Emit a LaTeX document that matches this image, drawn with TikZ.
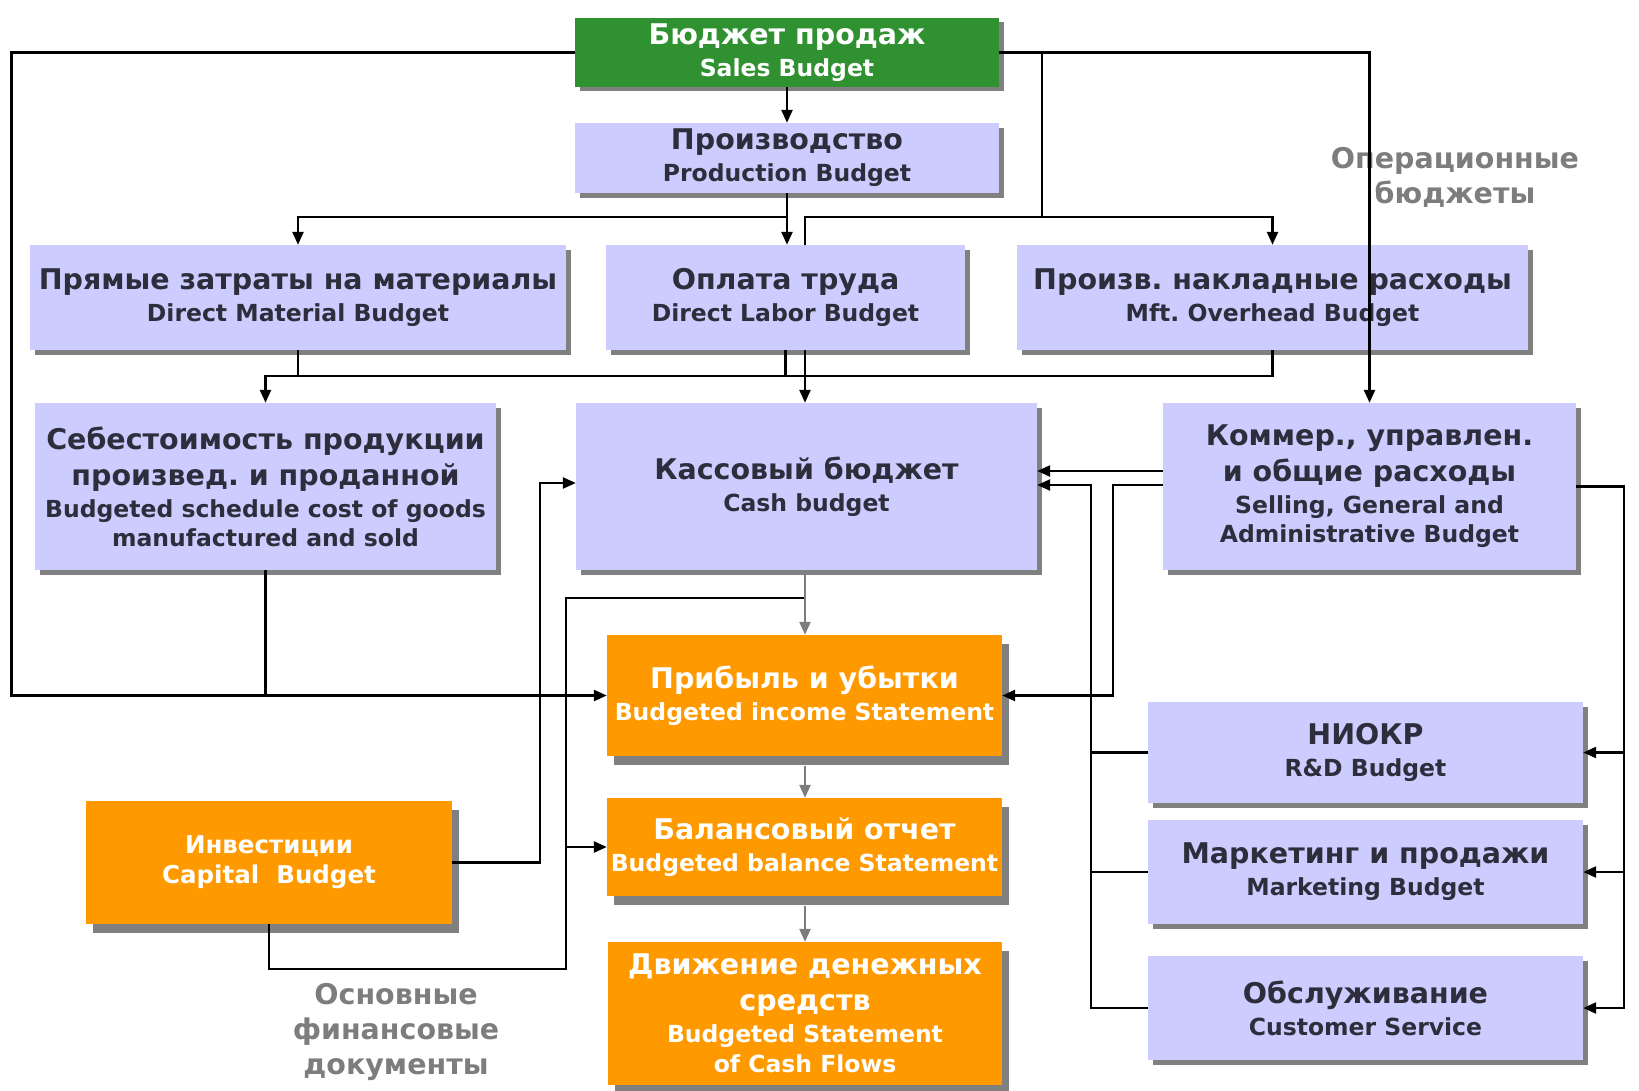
\documentclass[tikz,border=0pt]{standalone}
\usepackage{fontspec}
\setmainfont{DejaVu Sans}
\usetikzlibrary{arrows.meta,shadows}
\definecolor{grn}{RGB}{48,145,48}
\definecolor{lav}{RGB}{204,204,255}
\definecolor{org}{RGB}{255,153,0}
\definecolor{shgray}{RGB}{128,128,128}
\definecolor{txtdark}{RGB}{45,45,60}
\definecolor{lblgray}{RGB}{125,125,125}
\definecolor{arrgray}{RGB}{125,125,125}
\newcommand{\MF}{\fontsize{28.5}{32}\selectfont}
\newcommand{\SFt}{\fontsize{23.5}{29}\selectfont}
\frenchspacing
\begin{document}
\begin{tikzpicture}[x=1pt,y=-1pt,
  boxbase/.style={rectangle, inner sep=0pt, align=center,
    font=\frenchspacing\bfseries\fontsize{28.5}{32}\selectfont},
  lavbox/.style={boxbase, fill=lav, text=txtdark,
    general shadow={fill=shgray, shadow xshift=5pt, shadow yshift=-5pt}},
  grnbox/.style={boxbase, fill=grn, text=white,
    general shadow={fill=shgray, shadow xshift=5pt, shadow yshift=-4pt}},
  orgbox/.style={boxbase, fill=org, text=white,
    general shadow={fill=shgray, shadow xshift=7pt, shadow yshift=-9pt}},
  lbl/.style={align=center, text=lblgray,
    font=\bfseries\fontsize{28.5}{35}\selectfont},
  ln/.style={draw=black, line width=2.4pt},
  arr/.style={ln, -{Triangle[length=13pt,width=11pt]}},
  garr/.style={draw=arrgray, line width=2.4pt, -{Triangle[length=13pt,width=11pt]}}
]
\useasboundingbox (0,0) rectangle (1639,1090);

% ---- nodes ----
\node[grnbox, minimum width=424pt, minimum height=69pt] (sales) at (787,52.5)
  {{\MF Бюджет продаж}\\{\SFt Sales Budget}};
\node[lavbox, minimum width=424pt, minimum height=70pt] (prod) at (787,158)
  {{\MF Производство}\\{\SFt Production Budget}};
\node[lavbox, minimum width=536pt, minimum height=105pt] (dm) at (298,297.5)
  {{\MF Прямые затраты на материалы}\\{\SFt Direct Material Budget}};
\node[lavbox, minimum width=359pt, minimum height=105pt] (dl) at (785.5,297.5)
  {{\MF Оплата труда}\\{\SFt Direct Labor Budget}};
\node[lavbox, minimum width=511pt, minimum height=105pt] (mft) at (1272.5,297.5)
  {{\MF Произв. накладные расходы}\\{\SFt Mft. Overhead Budget}};
\node[lavbox, minimum width=461pt, minimum height=167pt] (cost) at (265.5,486.5)
  {{\MF Себестоимость продукции}\\[4pt]{\MF произвед. и проданной}\\{\SFt Budgeted schedule cost of goods}\\[-3pt]{\SFt manufactured and sold}};
\node[lavbox, minimum width=461pt, minimum height=167pt] (cash) at (806.5,486.5)
  {{\MF Кассовый бюджет}\\{\SFt Cash budget}};
\node[lavbox, minimum width=413pt, minimum height=167pt] (sga) at (1369.5,486.5)
  {{\MF Коммер., управлен.}\\[4pt]{\MF и общие расходы}\\{\SFt Selling, General and}\\[-3pt]{\SFt Administrative Budget}};
\node[orgbox, minimum width=395pt, minimum height=121pt] (income) at (804.5,695.5)
  {{\MF Прибыль и убытки}\\{\SFt Budgeted income Statement}};
\node[orgbox, minimum width=366pt, minimum height=123pt, font=\bfseries\fontsize{24.5}{30}\selectfont] (capital) at (269,862.5)
  {Инвестиции\\Capital\ \ Budget};
\node[orgbox, minimum width=395pt, minimum height=98pt] (balance) at (804.5,847)
  {{\MF Балансовый отчет}\\{\SFt Budgeted balance Statement}};
\node[orgbox, minimum width=394pt, minimum height=143pt] (cashflow) at (805,1013.5)
  {{\MF Движение денежных}\\[4pt]{\MF средств}\\{\SFt Budgeted Statement}\\[-2pt]{\SFt of Cash Flows}};
\node[lavbox, minimum width=435pt, minimum height=101pt] (rd) at (1365.5,752.5)
  {{\MF НИОКР}\\{\SFt R\&D Budget}};
\node[lavbox, minimum width=435pt, minimum height=104pt] (mkt) at (1365.5,872)
  {{\MF Маркетинг и продажи}\\{\SFt Marketing Budget}};
\node[lavbox, minimum width=435pt, minimum height=104pt] (svc) at (1365.5,1008)
  {{\MF Обслуживание}\\{\SFt Customer Service}};

\node[lbl] (oplbl) at (1455,177) {Операционные\\бюджеты};
\node[lbl] (osnlbl) at (396,1032) {Основные\\финансовые\\документы};

% ---- helper coordinates ----
\coordinate (lft) at (11.5,0);
\coordinate (ya) at (0,217);
\coordinate (e1) at (1042,0);
\coordinate (xb) at (805,0);
\coordinate (yb) at (0,376);
\coordinate (yc) at (0,598);
\coordinate (xc) at (566,0);
\coordinate (xd) at (540,0);
\coordinate (ye) at (0,483);
\coordinate (yf) at (0,969);
\coordinate (yg) at (0,471);
\coordinate (yh) at (0,485);
\coordinate (xe) at (1113,0);
\coordinate (xf) at (1091,0);
\coordinate (xg) at (1624,0);

% ---- connectors ----
\draw[arr] (sales.west) -| (lft|-income.west) -- (income.west);
\draw[ln] (cost.south) -- (cost.south|-income.west);
\draw[arr] (sales.south) -- (prod.north);
\draw[arr] (prod.south) -- (prod.south|-ya) -| (dm.north);
\draw[arr] (prod.south) -- (prod.south|-dl.north);
\draw[ln] (sales.east) -| (e1|-ya) -- (xb|-ya) -- (xb|-dl.north);
\draw[arr] (e1|-ya) -| (mft.north);
\draw[arr] (sales.east) -| (sga.north);

\draw[ln] (dm.south) -- (dm.south|-yb);
\draw[ln] (dl.south) -- (dl.south|-yb);
\draw[arr] (mft.south) -- (mft.south|-yb) -| (cost.north);
\draw[arr] (xb|-dl.south) -- (xb|-cash.north);

\draw[arr] (xb|-cash.south) -- (xb|-yc) -| (xc|-balance.west) -- (balance.west);
\draw[garr] (xb|-cash.south) -- (xb|-income.north);
\draw[arr] (capital.east) -| (xd|-ye) -- (cash.west|-ye);
\draw[ln] (capital.south) -- (capital.south|-yf) -| (xc|-balance.west);
\draw[garr] (xb|-income.south) ++(0,10) -- (xb|-balance.north);
\draw[garr] (xb|-balance.south) ++(0,10) -- (xb|-cashflow.north);

\draw[arr] (sga.west|-yg) -- (cash.east|-yg);
\draw[arr] (sga.west|-yh) -| (xe|-income.east) -- (income.east);
\draw[arr] (svc.west) -| (xf|-yh) -- (cash.east|-yh);
\draw[ln] (rd.west) -- (xf|-rd.west);
\draw[ln] (mkt.west) -- (xf|-mkt.west);
\draw[arr] (sga.east) -| (xg|-svc.east) -- (svc.east);
\draw[arr] (xg|-rd.east) -- (rd.east);
\draw[arr] (xg|-mkt.east) -- (mkt.east);
\end{tikzpicture}
\end{document}
